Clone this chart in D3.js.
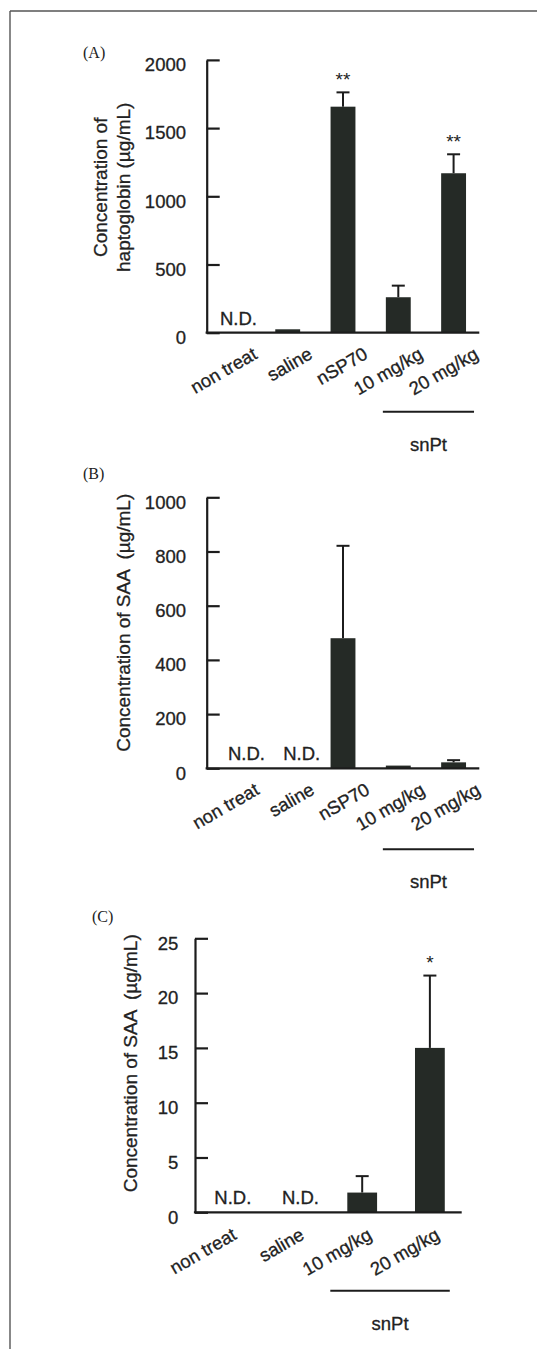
<!DOCTYPE html>
<html>
<head>
<meta charset="utf-8">
<script src="https://cdn.jsdelivr.net/npm/d3@7"></script>
<style>
  html, body { margin: 0; padding: 0; background: #ffffff; }
  svg { display: block; }
  text { font-family: "Liberation Sans", Arial, sans-serif; fill: #222; white-space: pre; }
  .ink text, text.ink { stroke: #222; stroke-width: 0.3px; }
</style>
</head>
<body>
<script>
// ---------------- data ----------------
const categoriesAB = ["non treat", "saline", "nSP70", "10 mg/kg", "20 mg/kg"];
const categoriesC = ["non treat", "saline", "10 mg/kg", "20 mg/kg"];

const haptoglobinMeans = [null, 25, 1657, 260, 1169];
const haptoglobinErrors = [0, 0, 105, 85, 139];
const haptoglobinSig = ["", "", "**", "", "**"];
const haptoglobinTicks = [0, 500, 1000, 1500, 2000];

const saaHighMeans = [null, null, 480, 10, 22];
const saaHighErrors = [0, 0, 341, 0, 8];
const saaHighSig = ["", "", "", "", ""];
const saaHighTicks = [0, 200, 400, 600, 800, 1000];

const saaLowMeans = [null, null, 1.8, 15.0];
const saaLowErrors = [0, 0, 1.5, 6.6];
const saaLowSig = ["", "", "", "*"];
const saaLowTicks = [0, 5, 10, 15, 20, 25];

const panelLetters = ["(A)", "(B)", "(C)"];
const yTitlesA = ["Concentration of", "haptoglobin (\u00b5g/mL)"];
const yTitlesB = ["Concentration of SAA  (\u00b5g/mL)"];
const yTitlesC = ["Concentration of SAA  (\u00b5g/mL)"];
const groupLabel = "snPt";
const ndLabel = "N.D.";

// ---------------- layout ----------------
const W = 537, H = 1349;
const svg = d3.select("body").append("svg").attr("width", W).attr("height", H);

const ink = "#1c1c1c";
const barFill = "#252a26";
const fs = 18.5;

// figure frame (left + top edges)
svg.append("line").attr("x1", 10).attr("x2", W).attr("y1", 11).attr("y2", 11)
  .attr("stroke", "#555").attr("stroke-width", 1.4);
svg.append("line").attr("x1", 10).attr("x2", 10).attr("y1", 11).attr("y2", H)
  .attr("stroke", "#555").attr("stroke-width", 1.4);

const panels = [
  {
    letter: panelLetters[0], letterPos: [83, 58],
    cats: categoriesAB, means: haptoglobinMeans, errs: haptoglobinErrors, sig: haptoglobinSig,
    ticks: haptoglobinTicks, max: 2000, titles: yTitlesA,
    x0: 206.7, x1: 479.3, y0: 332.7, y1: 59.9,
    padIn: 0.55, padOut: 0.24, tickPad: 20.7,
    titleX: [-106.7, -83.7], titleDy: -9,
    labDx: 26, labDy: 25, ndDx: 6,
    groupFrom: "10 mg/kg", groupTo: "20 mg/kg", groupAdj: [-3, 8], groupDy: 79
  },
  {
    letter: panelLetters[1], letterPos: [83, 479],
    cats: categoriesAB, means: saaHighMeans, errs: saaHighErrors, sig: saaHighSig,
    ticks: saaHighTicks, max: 1000, titles: yTitlesB,
    x0: 206.7, x1: 479.3, y0: 768.3, y1: 497.3,
    padIn: 0.55, padOut: 0.24, tickPad: 20.7,
    titleX: [-83.4], titleDy: -10,
    labDx: 28, labDy: 25, ndDx: 14,
    groupFrom: "10 mg/kg", groupTo: "20 mg/kg", groupAdj: [-3, 8], groupDy: 81
  },
  {
    letter: panelLetters[2], letterPos: [92, 922],
    cats: categoriesC, means: saaLowMeans, errs: saaLowErrors, sig: saaLowSig,
    ticks: saaLowTicks, max: 25, titles: yTitlesC,
    x0: 195, x1: 461.7, y0: 1212.3, y1: 938.3,
    padIn: 0.56, padOut: 0.25, tickPad: 16.7,
    titleX: [-65], titleDy: -12,
    labDx: 11, labDy: 26, ndDx: 6,
    groupFrom: "10 mg/kg", groupTo: "20 mg/kg", groupAdj: [-17, 5], groupDy: 78.4
  }
];

panels.forEach(p => {
  const g = svg.append("g");

  const x = d3.scaleBand().domain(p.cats).range([p.x0, p.x1])
    .paddingInner(p.padIn).paddingOuter(p.padOut);
  const y = d3.scaleLinear().domain([0, p.max]).range([p.y0, p.y1]);

  // panel letter
  g.append("text").attr("x", p.letterPos[0]).attr("y", p.letterPos[1])
    .style("font-family", "'Liberation Serif', 'Times New Roman', serif")
    .style("font-size", "16px").text(p.letter);

  // y axis (ticks pointing inward)
  const yAxis = d3.axisLeft(y).tickValues(p.ticks).tickSizeInner(-13).tickSizeOuter(0)
    .tickPadding(p.tickPad).tickFormat(d3.format("d"));
  const ag = g.append("g").attr("class", "ink").attr("transform", `translate(${p.x0},0)`).call(yAxis);
  ag.select(".domain").attr("stroke", ink).attr("stroke-width", 2.2);
  ag.selectAll(".tick line").attr("stroke", ink).attr("stroke-width", 2.2);
  ag.selectAll(".tick text").attr("dy", "0.58em")
    .style("font-family", "'Liberation Sans', Arial, sans-serif")
    .style("font-size", fs + "px").attr("fill", "#222");

  // y title
  p.titles.forEach((t, i) => {
    g.append("text").attr("class", "ink")
      .attr("transform", `translate(${p.x0 + p.titleX[i]},${(p.y0 + p.y1) / 2 + p.titleDy}) rotate(-90)`)
      .attr("text-anchor", "middle").attr("dy", "0.35em")
      .style("font-size", "19px").text(t);
  });

  // bars
  const rows = p.cats.map((c, i) => ({ c, v: p.means[i], e: p.errs[i], s: p.sig[i] }));

  // error bars (behind bars)
  const eb = rows.filter(d => d.v !== null && d.e > 0);
  g.selectAll(".eline").data(eb).enter().append("line")
    .attr("x1", d => x(d.c) + x.bandwidth() / 2).attr("x2", d => x(d.c) + x.bandwidth() / 2)
    .attr("y1", d => y(d.v)).attr("y2", d => y(d.v + d.e))
    .attr("stroke", ink).attr("stroke-width", 2);
  g.selectAll(".ecap").data(eb).enter().append("line")
    .attr("x1", d => x(d.c) + x.bandwidth() / 2 - 6.5).attr("x2", d => x(d.c) + x.bandwidth() / 2 + 6.5)
    .attr("y1", d => y(d.v + d.e)).attr("y2", d => y(d.v + d.e))
    .attr("stroke", ink).attr("stroke-width", 2);

  g.selectAll(".bar").data(rows.filter(d => d.v !== null)).enter().append("rect")
    .attr("x", d => x(d.c)).attr("width", x.bandwidth())
    .attr("y", d => y(d.v)).attr("height", d => p.y0 - y(d.v))
    .attr("fill", barFill);

  // x axis line
  g.append("line").attr("x1", p.x0 - 1.1).attr("x2", p.x1).attr("y1", p.y0).attr("y2", p.y0)
    .attr("stroke", ink).attr("stroke-width", 2.2);

  // significance marks
  g.selectAll(".sig").data(rows.filter(d => d.s)).enter().append("text")
    .attr("x", d => x(d.c) + x.bandwidth() / 2)
    .attr("y", d => y(d.v + d.e) - 6.5)
    .attr("text-anchor", "middle").style("font-size", "19px").text(d => d.s);

  // N.D.
  g.selectAll(".nd").data(rows.filter(d => d.v === null)).enter().append("text")
    .attr("class", "ink")
    .attr("x", d => x(d.c) + x.bandwidth() / 2 + p.ndDx)
    .attr("y", p.y0 - 8)
    .attr("text-anchor", "middle").style("font-size", fs + "px").text(ndLabel);

  // category labels, rotated
  g.selectAll(".cat").data(p.cats).enter().append("text")
    .attr("class", "ink")
    .attr("transform", d => `translate(${x(d) + x.bandwidth() / 2 + p.labDx},${p.y0 + p.labDy}) rotate(-30)`)
    .attr("text-anchor", "end").style("font-size", fs + "px").text(d => d);

  // group line + label
  const gx1 = x(p.groupFrom) + p.groupAdj[0];
  const gx2 = x(p.groupTo) + x.bandwidth() + p.groupAdj[1];
  const gy = p.y0 + p.groupDy;
  g.append("line").attr("x1", gx1).attr("x2", gx2).attr("y1", gy).attr("y2", gy)
    .attr("stroke", ink).attr("stroke-width", 2);
  g.append("text").attr("class", "ink").attr("x", (gx1 + gx2) / 2).attr("y", gy + 39)
    .attr("text-anchor", "middle").style("font-size", fs + "px").text(groupLabel);
});
</script>
</body>
</html>
